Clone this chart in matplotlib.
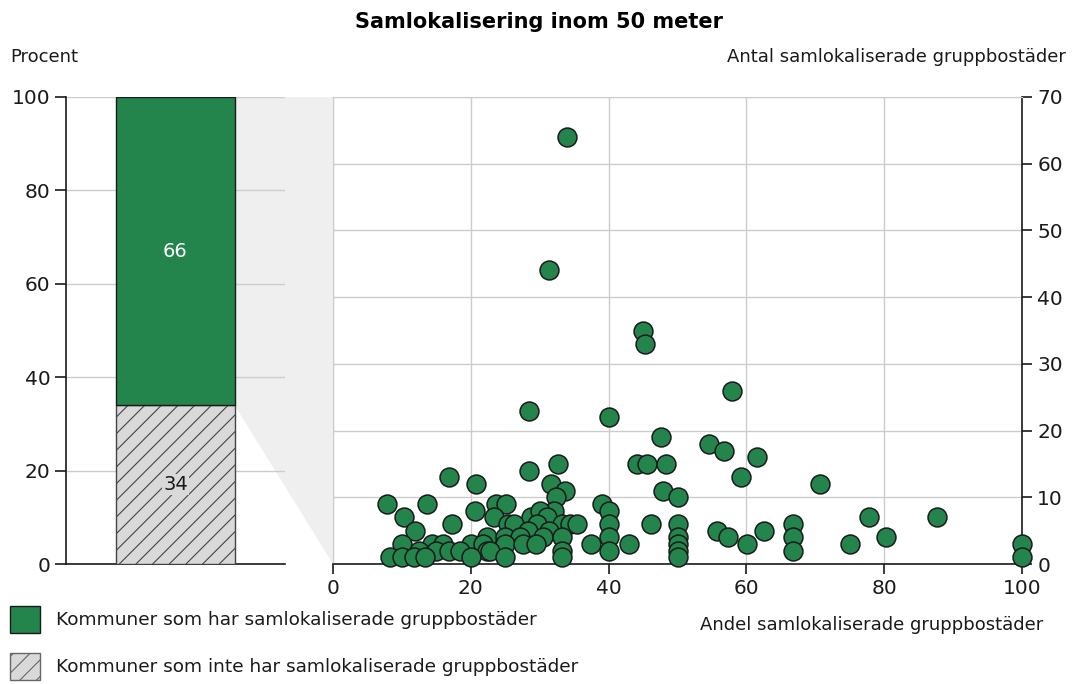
import numpy as np
import matplotlib
matplotlib.use("Agg")
import matplotlib.pyplot as plt
from matplotlib.patches import Polygon, Patch

plt.rcParams['font.family'] = ['DejaVu Sans']
plt.rcParams['hatch.linewidth'] = 0.8

# stapel: andel kommuner (procent)
andel_har = 66
andel_inte = 34

# spridning: andel samlokaliserade (%) och antal samlokaliserade gruppbostäder
andel = [34.0, 31.4, 45.0, 45.3, 57.9, 28.4, 40.0, 47.6, 54.6, 56.7, 61.6, 44.1, 45.6, 48.4, 32.6,
         28.5, 16.8, 59.2, 20.7, 31.6, 70.7, 47.9, 33.6, 50.0, 32.3,
         7.9, 13.7, 23.7, 25.1, 39.1,
         10.3, 20.6, 23.4, 32.1, 40.0, 28.8, 77.8, 87.6, 30.0, 31.0,
         17.2, 25.4, 29.6, 33.2, 34.4, 35.4, 40.0, 46.2, 50.0, 66.7, 26.3,
         11.9, 55.7, 62.6, 28.3, 31.3,
         22.3, 25.0, 27.1, 30.5, 33.3, 40.0, 50.0, 57.3, 66.7, 80.2,
         10.0, 14.3, 16.0, 20.0, 21.8, 25.0, 27.6, 29.4, 37.5, 42.9, 50.0, 60.1, 75.1, 100.0,
         12.5, 15.0, 16.8, 18.4, 22.3, 22.8, 33.3, 40.0, 50.0, 66.7,
         8.3, 10.0, 11.7, 13.3, 20.0, 25.0, 33.3, 50.0, 100.0]
antal = [64, 44, 35, 33, 26, 23, 22, 19, 18, 17, 16, 15, 15, 15, 15,
         14, 13, 13, 12, 12, 12, 11, 11, 10, 10,
         9, 9, 9, 9, 9,
         7, 8, 7, 8, 8, 7, 7, 7, 8, 7,
         6, 6, 6, 6, 6, 6, 6, 6, 6, 6, 6,
         5, 5, 5, 5, 5,
         4, 4, 4, 4, 4, 4, 4, 4, 4, 4,
         3, 3, 3, 3, 3, 3, 3, 3, 3, 3, 3, 3, 3, 3,
         2, 2, 2, 2, 2, 2, 2, 2, 2, 2,
         1, 1, 1, 1, 1, 1, 1, 1, 1]

gron = '#23854c'
gra = '#d9d9d9'
grid = '#cccccc'
txt = '#1a1a1a'

W, H = 1075, 684
fig = plt.figure(figsize=(W / 100, H / 100), dpi=100)

def box(l, r, t, b):
    return [l / W, 1 - b / H, (r - l) / W, (b - t) / H]

# vänster stapeldiagram
ax1 = fig.add_axes(box(66, 285, 97, 564))
ax1.set_facecolor('none')
ax1.bar(0.5, andel_inte, width=0.54, color=gra, edgecolor='#444444', hatch='//', linewidth=1, zorder=3)
ax1.bar(0.5, andel_har, bottom=andel_inte, width=0.54, color=gron, edgecolor='#1a1a1a', linewidth=1, zorder=3)
ax1.text(0.5, andel_inte / 2, str(andel_inte), ha='center', va='center', fontsize=14, color=txt, zorder=4,
         bbox=dict(facecolor=gra, edgecolor='none', pad=1))
ax1.text(0.5, andel_inte + andel_har / 2, str(andel_har), ha='center', va='center', fontsize=14,
         color='white', zorder=4)
ax1.set_xlim(0, 1)
ax1.set_ylim(0, 100)
ax1.set_yticks(range(0, 101, 20))
ax1.set_xticks([])
ax1.yaxis.grid(True, color=grid, linewidth=1)
ax1.set_axisbelow(True)
for s in ['top', 'right']:
    ax1.spines[s].set_visible(False)
ax1.spines['left'].set_color(txt)
ax1.spines['bottom'].set_color(txt)
ax1.spines['left'].set_linewidth(1.2)
ax1.spines['bottom'].set_linewidth(1.2)
ax1.tick_params(axis='y', length=8, width=1.2, color=txt, labelsize=14.5, labelcolor=txt, pad=3)

# höger spridningsdiagram
ax2 = fig.add_axes(box(333, 1022, 97, 564))
ax2.scatter(andel, antal, s=185, color=gron, edgecolor='#1a1a1a', linewidth=1.1, zorder=3, clip_on=False)
ax2.set_xlim(0, 100)
ax2.set_ylim(0, 70)
ax2.set_xticks(range(0, 101, 20))
ax2.set_yticks(range(0, 71, 10))
ax2.yaxis.tick_right()
ax2.grid(True, color=grid, linewidth=1)
ax2.set_axisbelow(True)
ax2.spines['top'].set_color(grid)
ax2.spines['left'].set_color(grid)
ax2.spines['right'].set_color(txt)
ax2.spines['bottom'].set_color(txt)
ax2.spines['right'].set_linewidth(1.2)
ax2.spines['bottom'].set_linewidth(1.2)
ax2.tick_params(axis='both', length=7, width=1.2, color=txt, labelsize=14.5, labelcolor=txt, pad=4)

# grå kil mellan stapel och spridningsdiagram
to_fig = fig.transFigure.inverted()
p1 = to_fig.transform(ax1.transData.transform((0.77, 100)))
p2 = to_fig.transform(ax1.transData.transform((0.77, andel_inte)))
p3 = to_fig.transform(ax2.transAxes.transform((0, 0)))
p4 = to_fig.transform(ax2.transAxes.transform((0, 1)))
fig.add_artist(Polygon([p1, p2, p3, p4], closed=True, transform=fig.transFigure,
                       facecolor='#efefef', edgecolor='none', zorder=-1))

# texter
fig.text(539 / W, 1 - 22 / H, 'Samlokalisering inom 50 meter', ha='center', va='center',
         fontsize=15, fontweight='bold', color='black')
fig.text(10 / W, 1 - 57 / H, 'Procent', ha='left', va='center', fontsize=13, color=txt)
fig.text(1066 / W, 1 - 57 / H, 'Antal samlokaliserade gruppbostäder', ha='right', va='center',
         fontsize=13, color=txt)
fig.text(1043 / W, 1 - 625 / H, 'Andel samlokaliserade gruppbostäder', ha='right', va='center',
         fontsize=13, color=txt)

handles = [Patch(facecolor=gron, edgecolor='#1a1a1a', linewidth=1),
           Patch(facecolor=gra, edgecolor='#666666', hatch='//', linewidth=1)]
labels = ['Kommuner som har samlokaliserade gruppbostäder',
          'Kommuner som inte har samlokaliserade gruppbostäder']
fig.legend(handles, labels, loc='upper left', bbox_to_anchor=(10 / W, 1 - 606 / H),
           frameon=False, fontsize=13.3, handlelength=1.65, handleheight=1.85,
           handletextpad=0.85, labelspacing=1.1, borderpad=0, borderaxespad=0,
           labelcolor=txt)

fig.savefig('out.png', dpi=100)
